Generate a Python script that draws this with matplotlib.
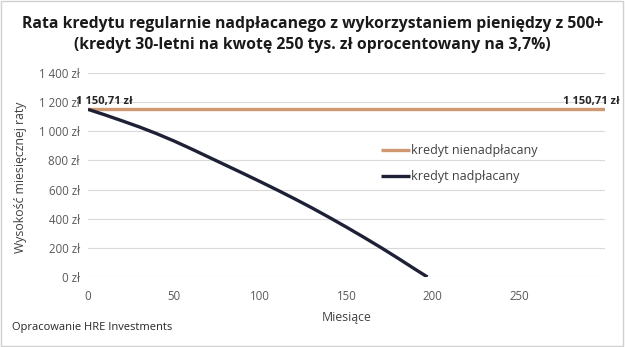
import numpy as np
import matplotlib.pyplot as plt
from matplotlib.patches import Rectangle

# monthly installment, loan 250k PLN, 30 years, 3.7%
rata_stala = 1150.71
miesiace_n = [0, 300]
rata_n = [rata_stala, rata_stala]

# overpaid loan: installment falls until the loan is repaid
miesiace_p = [0, 10, 20, 30, 40, 50, 60, 70, 80, 90, 100, 110, 120,
              130, 140, 150, 160, 170, 180, 190, 197]
rata_p = [1150.71, 1112, 1071, 1029, 983, 933, 879, 823, 767, 711, 654,
          596, 536, 474, 409, 342, 273, 202, 128, 52, 0]

x_ticks = [0, 50, 100, 150, 200, 250]
y_ticks = [0, 200, 400, 600, 800, 1000, 1200, 1400]
y_labels = ['0 zł', '200 zł', '400 zł', '600 zł', '800 zł',
            '1 000 zł', '1 200 zł', '1 400 zł']

plt.rcParams['font.family'] = ['Open Sans', 'DejaVu Sans']

fig = plt.figure(figsize=(6.25, 3.47), dpi=100)
fig.patches.append(Rectangle((0.002, 0.003), 0.995, 0.994, transform=fig.transFigure,
                             fill=False, edgecolor='#d0d0d0', linewidth=1))
ax = fig.add_axes([0.1408, 0.2017, 0.8272, 0.5879])

ax.plot(miesiace_n, rata_n, color='#CF9872', linewidth=2.4, label='kredyt nienadpłacany',
        solid_capstyle='butt')
ax.plot(miesiace_p, rata_p, color='#1E2136', linewidth=2.4, label='kredyt nadpłacany',
        solid_capstyle='butt')

ax.set_xlim(0, 300)
ax.set_ylim(0, 1400)
ax.set_xticks(x_ticks)
ax.set_yticks(y_ticks)
ax.set_yticklabels(y_labels)
ax.tick_params(length=0, labelsize=8.3, colors='#595959', pad=9)
ax.tick_params(axis='y', pad=6)
ax.grid(axis='y', color='#d9d9d9', linewidth=0.8)
ax.set_axisbelow(True)
for s in ax.spines.values():
    s.set_visible(False)

lab = '1 150,71 zł'
ax.annotate(lab, (miesiace_n[0], rata_n[0]), xytext=(11.5, 2), textcoords='offset points',
            ha='center', va='bottom', fontsize=8, fontweight='bold', color='#262626')
ax.annotate(lab, (miesiace_n[1], rata_n[1]), xytext=(-10, 2), textcoords='offset points',
            ha='center', va='bottom', fontsize=8, fontweight='bold', color='#262626')

ax.set_xlabel('Miesiące', fontsize=8.8, color='#404040', labelpad=6)
ax.set_ylabel('Wysokość miesięcznej raty', fontsize=8.8, color='#404040')
ax.yaxis.set_label_coords(-0.118, 0.49)

leg = ax.legend(loc='upper left', bbox_to_anchor=(0.545, 0.705), frameon=False,
                fontsize=9, handlelength=2.3, handletextpad=0.1, labelspacing=1.0)
for t in leg.get_texts():
    t.set_color('#404040')

fig.text(0.5, 0.955, 'Rata kredytu regularnie nadpłacanego z wykorzystaniem pieniędzy z 500+\n'
         '(kredyt 30-letni na kwotę 250 tys. zł oprocentowany na 3,7%)',
         ha='center', va='top', fontsize=11.3, fontweight='bold', color='#1a1a1a',
         linespacing=1.45)
fig.text(0.02, 0.057, 'Opracowanie HRE Investments', fontsize=8, color='#262626',
         ha='left', va='center')

fig.savefig('out.png', dpi=100)
